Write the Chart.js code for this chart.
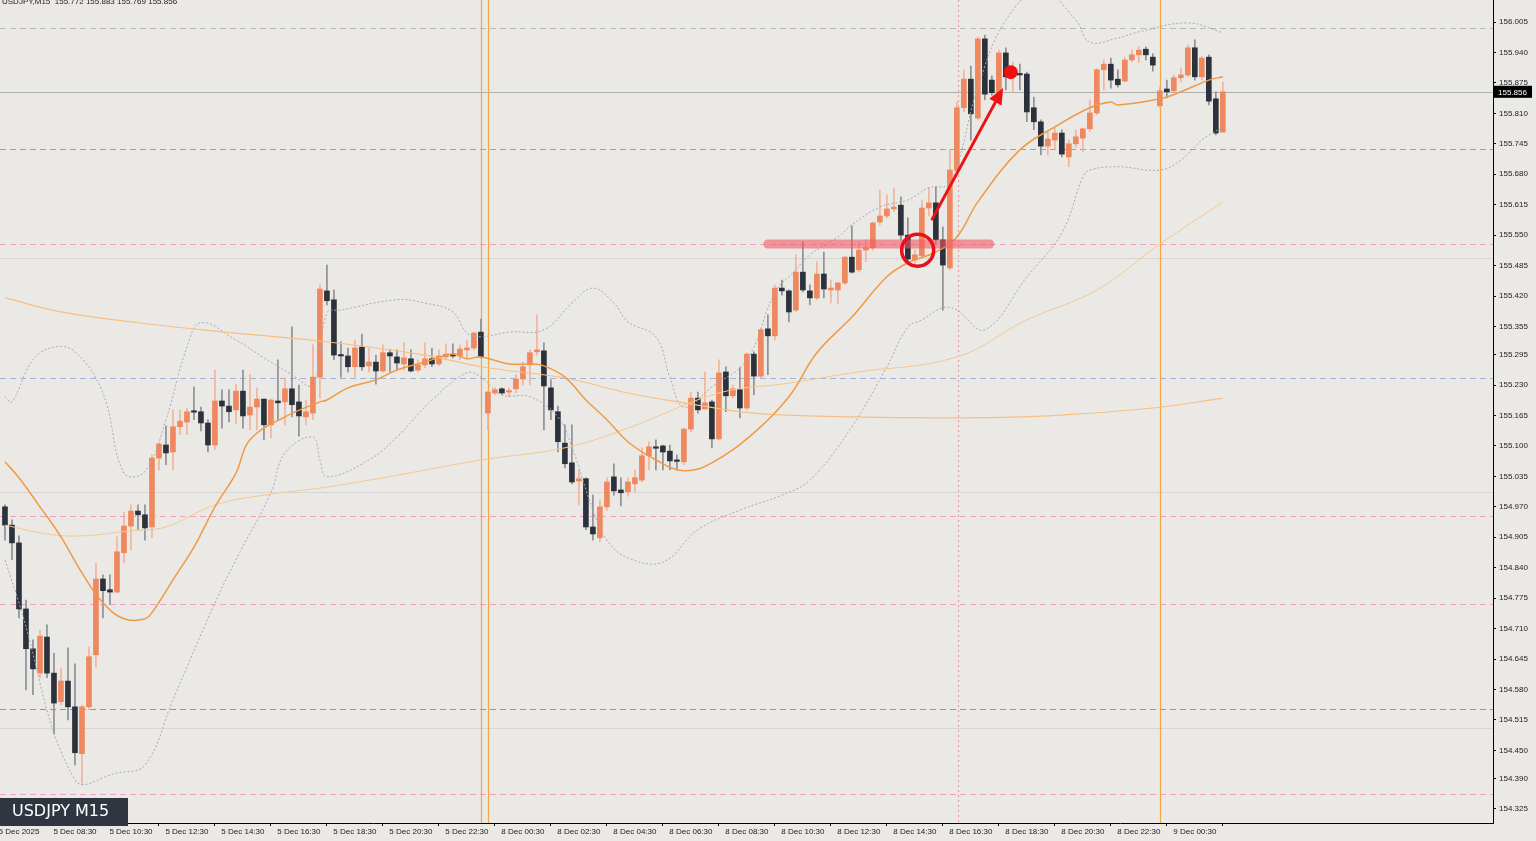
<!DOCTYPE html>
<html><head><meta charset="utf-8">
<script src="https://cdn.jsdelivr.net/npm/chart.js@4.4.1/dist/chart.umd.min.js"></script>
<style>html,body{margin:0;padding:0;background:#ebe9e6;overflow:hidden}#wrap{width:1536px;height:841px}</style>
</head><body><div id="wrap"><canvas id="c" width="1536" height="841"></canvas></div>
<script>
const opens=[154.970,154.931,154.893,154.752,154.667,154.615,154.692,154.615,154.554,154.598,154.543,154.443,154.543,154.654,154.816,154.793,154.788,154.872,154.929,154.961,154.953,154.927,155.074,155.102,155.087,155.141,155.151,155.173,155.173,155.149,155.102,155.196,155.185,155.177,155.217,155.166,155.183,155.200,155.145,155.196,155.194,155.222,155.194,155.162,155.170,155.247,155.431,155.412,155.294,155.292,155.269,155.311,155.271,155.279,155.260,155.299,155.290,155.275,155.286,155.262,155.273,155.286,155.275,155.290,155.296,155.292,155.305,155.309,155.343,155.170,155.213,155.222,155.215,155.222,155.243,155.273,155.301,155.303,155.224,155.173,155.106,155.064,155.025,155.030,154.927,154.904,154.970,155.034,155.006,155.002,155.019,155.027,155.079,155.096,155.100,155.089,155.068,155.066,155.136,155.202,155.179,155.194,155.115,155.258,155.207,155.220,155.181,155.296,155.249,155.350,155.335,155.437,155.431,155.390,155.471,155.431,155.416,155.467,155.433,155.433,155.448,155.503,155.476,155.518,155.523,155.578,155.591,155.606,155.614,155.550,155.497,155.506,155.608,155.619,155.540,155.480,155.689,155.822,155.883,155.800,155.969,155.881,155.854,155.939,155.892,155.894,155.894,155.822,155.792,155.740,155.753,155.768,155.717,155.745,155.757,155.777,155.811,155.903,155.915,155.883,155.879,155.924,155.935,155.947,155.930,155.826,155.862,155.858,155.886,155.892,155.950,155.888,155.930,155.841,155.770];
const highs=[154.974,154.942,154.908,154.771,154.686,154.707,154.718,154.658,154.626,154.669,154.635,154.547,154.671,154.850,154.825,154.825,154.906,154.959,154.974,154.974,154.974,155.081,155.106,155.143,155.177,155.177,155.181,155.226,155.183,155.156,155.262,155.220,155.220,155.232,155.262,155.252,155.224,155.200,155.200,155.284,155.245,155.354,155.230,155.198,155.316,155.444,155.486,155.433,155.322,155.309,155.326,155.339,155.309,155.294,155.316,155.305,155.305,155.320,155.305,155.284,155.320,155.309,155.305,155.318,155.318,155.316,155.326,155.343,155.371,155.217,155.224,155.224,155.224,155.252,155.279,155.305,155.380,155.320,155.241,155.185,155.145,155.145,155.049,155.032,154.995,154.985,155.032,155.062,155.032,155.032,155.049,155.096,155.109,155.113,155.102,155.102,155.081,155.138,155.215,155.215,155.258,155.198,155.284,155.269,155.230,155.267,155.299,155.301,155.350,155.380,155.444,155.454,155.433,155.508,155.536,155.444,155.493,155.514,155.454,155.450,155.505,155.570,155.536,155.540,155.578,155.646,155.636,155.651,155.632,155.587,155.518,155.625,155.651,155.653,155.568,155.732,155.834,155.903,155.911,155.973,155.977,155.890,155.945,155.950,155.920,155.915,155.898,155.845,155.796,155.770,155.779,155.775,155.753,155.775,155.779,155.839,155.905,155.924,155.928,155.903,155.930,155.945,155.952,155.952,155.937,155.866,155.881,155.892,155.907,155.956,155.967,155.932,155.935,155.856,155.877];
const lows=[154.899,154.857,154.733,154.579,154.569,154.605,154.605,154.485,154.547,154.515,154.419,154.376,154.537,154.628,154.733,154.761,154.786,154.850,154.878,154.921,154.899,154.904,155.049,155.060,155.049,155.124,155.124,155.156,155.132,155.087,155.092,155.138,155.151,155.147,155.138,155.134,155.134,155.113,155.117,155.156,155.145,155.162,155.121,155.145,155.156,155.202,155.401,155.284,155.247,155.258,155.247,155.262,155.258,155.232,155.258,155.258,155.262,155.262,155.258,155.258,155.267,155.269,155.271,155.284,155.288,155.284,155.288,155.305,155.288,155.134,155.209,155.209,155.205,155.213,155.230,155.230,155.294,155.134,155.156,155.087,155.053,155.019,154.974,154.921,154.899,154.895,154.963,154.995,154.972,154.993,155.002,155.023,155.049,155.049,155.049,155.049,155.049,155.060,155.130,155.170,155.179,155.096,155.113,155.173,155.202,155.160,155.177,155.209,155.245,155.252,155.326,155.422,155.365,155.386,155.429,155.401,155.412,155.416,155.405,155.403,155.444,155.469,155.471,155.493,155.518,155.572,155.587,155.600,155.540,155.493,155.486,155.501,155.591,155.529,155.390,155.476,155.685,155.813,155.753,155.796,155.839,155.849,155.826,155.860,155.856,155.860,155.792,155.775,155.721,155.721,155.732,155.717,155.696,155.738,155.728,155.772,155.807,155.860,155.864,155.866,155.877,155.920,155.918,155.924,155.900,155.822,155.843,155.856,155.877,155.888,155.881,155.881,155.828,155.764,155.770];
const closes=[154.931,154.893,154.752,154.667,154.624,154.694,154.615,154.551,154.598,154.543,154.445,154.543,154.650,154.816,154.791,154.788,154.874,154.929,154.961,154.953,154.925,155.074,155.104,155.085,155.141,155.153,155.173,155.172,155.149,155.102,155.196,155.185,155.173,155.217,155.164,155.183,155.200,155.145,155.198,155.192,155.222,155.188,155.164,155.173,155.247,155.435,155.410,155.294,155.292,155.269,155.309,155.269,155.279,155.260,155.299,155.292,155.277,155.288,155.260,155.273,155.286,155.275,155.292,155.296,155.292,155.307,155.309,155.341,155.290,155.215,155.220,155.213,155.217,155.243,155.269,155.299,155.305,155.228,155.177,155.109,155.062,155.023,155.030,154.927,154.912,154.970,155.023,155.004,155.000,155.023,155.032,155.079,155.098,155.095,155.087,155.068,155.067,155.136,155.202,155.177,155.192,155.115,155.256,155.207,155.222,155.181,155.296,155.249,155.348,155.335,155.437,155.431,155.386,155.471,155.433,155.416,155.467,155.435,155.437,155.448,155.503,155.471,155.518,155.523,155.576,155.591,155.606,155.610,155.550,155.499,155.508,155.608,155.619,155.540,155.486,155.689,155.822,155.883,155.809,155.969,155.851,155.854,155.939,155.888,155.896,155.892,155.813,155.792,155.740,155.755,155.768,155.723,155.745,155.760,155.777,155.811,155.903,155.915,155.881,155.871,155.924,155.935,155.945,155.935,155.913,155.858,155.856,155.886,155.892,155.950,155.888,155.928,155.836,155.768,155.856];

const ma20Idx=[0,2,5,8,11,14,17,20,21,24,27,30,33,35,40,45,46,49,53,56,60,64,66,68,72,75,77,80,83,86,89,93,97,101,107,112,116,121,126,129,133,136,139,145,150,155,158,159,165,168,172,174];
const ma20Val=[155.066,155.032,154.970,154.906,154.829,154.765,154.731,154.731,154.744,154.814,154.884,154.970,155.042,155.113,155.162,155.194,155.198,155.224,155.241,155.262,155.279,155.296,155.286,155.290,155.275,155.275,155.271,155.247,155.198,155.156,155.109,155.070,155.047,155.064,155.128,155.205,155.299,155.375,155.461,155.491,155.514,155.546,155.621,155.732,155.781,155.822,155.834,155.828,155.841,155.856,155.881,155.888];
const maMidIdx=[0,8,19,30,45,60,68,80,89,97,107,121,136,149,164,174];
const maMidVal=[155.416,155.386,155.363,155.345,155.324,155.294,155.269,155.245,155.213,155.192,155.170,155.162,155.160,155.164,155.181,155.202];
const maSlowIdx=[0,6,11,18,23,30,37,45,54,68,80,89,102,112,121,136,146,156,165,174];
const maSlowVal=[154.931,154.912,154.908,154.919,154.927,154.974,154.995,155.010,155.032,155.070,155.096,155.138,155.213,155.234,155.256,155.290,155.369,155.433,155.531,155.621];
const bbUpIdx=[0,1,4,7,10,14,17,20,23,26,28,33,37,41,44,46,48,56,60,64,66,68,72,77,81,84,87,89,93,95,97,101,106,110,113,115,119,121,125,129,132,135,139,143,148,153,155,159,162,169,174];
const bbUpVal=[155.205,155.194,155.284,155.311,155.301,155.213,155.042,155.045,155.156,155.311,155.363,155.326,155.288,155.252,155.230,155.384,155.390,155.412,155.405,155.386,155.341,155.333,155.343,155.348,155.405,155.437,155.405,155.365,155.333,155.247,155.183,155.226,155.284,155.427,155.476,155.508,155.546,155.572,155.610,155.625,155.651,155.661,155.866,156.009,156.073,156.009,155.962,155.971,155.984,156.003,155.982];
const bbLoIdx=[0,2,10,16,20,24,30,33,38,40,44,45,46,52,56,61,66,68,71,75,79,81,84,86,89,94,99,105,111,115,121,126,129,131,134,136,140,146,151,154,155,159,165,168,171,174];
const bbLoVal=[154.857,154.765,154.387,154.402,154.419,154.558,154.765,154.857,155.000,155.085,155.119,155.070,155.034,155.070,155.119,155.198,155.256,155.247,155.209,155.205,155.162,155.098,154.963,154.899,154.861,154.852,154.921,154.963,154.995,155.027,155.141,155.269,155.354,155.369,155.395,155.390,155.348,155.461,155.555,155.674,155.689,155.696,155.689,155.710,155.753,155.781];

const yTicks=[156.005,155.940,155.875,155.810,155.745,155.680,155.615,155.550,155.485,155.420,155.355,155.295,155.230,155.165,155.100,155.035,154.970,154.905,154.840,154.775,154.710,154.645,154.580,154.515,154.450,154.390,154.325];
const xTickIdx=[2,10,18,26,34,42,50,58,66,74,82,90,98,106,114,122,130,138,146,154,162,170];
const xTickLabels=["5 Dec 2025","5 Dec 08:30","5 Dec 10:30","5 Dec 12:30","5 Dec 14:30","5 Dec 16:30","5 Dec 18:30","5 Dec 20:30","5 Dec 22:30","8 Dec 00:30","8 Dec 02:30","8 Dec 04:30","8 Dec 06:30","8 Dec 08:30","8 Dec 10:30","8 Dec 12:30","8 Dec 14:30","8 Dec 16:30","8 Dec 18:30","8 Dec 20:30","8 Dec 22:30","9 Dec 00:30"];
const hLevels=[155.992,155.734,155.531,155.245,154.951,154.763,154.539,154.357];
const hLevelColors=["#b9b9b9","#a0a0a0","#f0a0c0","#9fb4d8","#f0a0c0","#f0a0c0","#8a9f8a","#f0a0c0"];
const hSolid=[155.501,155.002,154.498];
const currentPrice=155.856;
const vLinesOrange=[68,69,165];
const vLinePink=[136.1];
const zoneLine={from:109,to:140.7,price:155.531};
const circleMark={i:130.4,price:155.518};
const arrowMark={i0:132.4,p0:155.582,i1:142.6,p1:155.864};
const dotMark={i:143.7,price:155.898};
const title="USDJPY,M15  155.772 155.883 155.769 155.856";

const idx=opens.map((_,i)=>i);
const up=idx.map(i=>closes[i]>=opens[i]);
const ORANGE='#ef885e', DARK='#2c323b';
const pts=(a,b)=>a.map((x,k)=>({x:x,y:b[k]}));

const bg={id:'bg',beforeDraw(c){const x=c.ctx;x.save();x.fillStyle='#ebe9e6';x.fillRect(0,0,c.width,c.height);x.restore();
 const {chartArea:a,scales:{x:sx,y:sy}}=c;x.save();
 hSolid.forEach(p=>{const y=Math.round(sy.getPixelForValue(p))+.5;x.strokeStyle='#d8d6d3';x.lineWidth=1;x.beginPath();x.moveTo(a.left,y);x.lineTo(a.right,y);x.stroke();});
 hLevels.forEach((p,k)=>{const y=Math.round(sy.getPixelForValue(p))+.5;x.strokeStyle=hLevelColors[k];x.setLineDash([6,4]);x.lineWidth=1;x.beginPath();x.moveTo(a.left,y);x.lineTo(a.right,y);x.stroke();});
 x.setLineDash([]);
 {const y=Math.round(sy.getPixelForValue(currentPrice))+.5;x.strokeStyle='#b0b0b0';x.beginPath();x.moveTo(a.left,y);x.lineTo(a.right,y);x.stroke();}
 vLinesOrange.forEach(i=>{const px=Math.round(sx.getPixelForValue(i))+.5;x.strokeStyle='#f3a640';x.lineWidth=1.2;x.beginPath();x.moveTo(px,a.top);x.lineTo(px,a.bottom);x.stroke();});
 vLinePink.forEach(i=>{const px=Math.round(sx.getPixelForValue(i))+.5;x.strokeStyle='#e6a0a0';x.setLineDash([2,3]);x.beginPath();x.moveTo(px,a.top);x.lineTo(px,a.bottom);x.stroke();x.setLineDash([]);});
 x.restore();}};
const over={id:'over',afterDatasetsDraw(c){const x=c.ctx,{chartArea:a,scales:{x:sx,y:sy}}=c;x.save();
 x.beginPath();x.rect(a.left,a.top,a.right-a.left,a.bottom-a.top);x.clip();
 const zy=sy.getPixelForValue(zoneLine.price);x.strokeStyle='rgba(240,90,100,0.6)';x.lineWidth=9;x.lineCap='round';x.beginPath();x.moveTo(sx.getPixelForValue(zoneLine.from),zy);x.lineTo(sx.getPixelForValue(zoneLine.to),zy);x.stroke();
 x.lineCap='butt';x.strokeStyle='#e8101a';x.lineWidth=3.5;x.beginPath();x.arc(sx.getPixelForValue(circleMark.i),sy.getPixelForValue(circleMark.price),16,0,Math.PI*2);x.stroke();
 const ax0=sx.getPixelForValue(arrowMark.i0),ay0=sy.getPixelForValue(arrowMark.p0),ax1=sx.getPixelForValue(arrowMark.i1),ay1=sy.getPixelForValue(arrowMark.p1);
 const ang=Math.atan2(ay1-ay0,ax1-ax0);x.strokeStyle='#ee1111';x.fillStyle='#ee1111';x.lineWidth=3;x.beginPath();x.moveTo(ax0,ay0);x.lineTo(ax1-10*Math.cos(ang),ay1-10*Math.sin(ang));x.stroke();
 x.beginPath();x.moveTo(ax1,ay1);x.lineTo(ax1-16*Math.cos(ang)+7*Math.sin(ang),ay1-16*Math.sin(ang)-7*Math.cos(ang));x.lineTo(ax1-16*Math.cos(ang)-7*Math.sin(ang),ay1-16*Math.sin(ang)+7*Math.cos(ang));x.closePath();x.fill();
 x.beginPath();x.arc(sx.getPixelForValue(dotMark.i),sy.getPixelForValue(dotMark.price),7,0,Math.PI*2);x.fill();
 x.restore();
 x.save();const cy=sy.getPixelForValue(currentPrice);x.fillStyle='#000';x.fillRect(a.right+1,cy-6,38,12);x.fillStyle='#fff';x.font='8px "Liberation Sans"';x.textBaseline='middle';x.fillText(currentPrice.toFixed(3),a.right+5,cy+.5);
 x.fillStyle='#222';x.font='8px "Liberation Sans"';x.textBaseline='top';x.fillText(title,2,-2);
 x.fillStyle='#2f3640';x.fillRect(0,798,128,28);x.fillStyle='#fff';x.font='16px "DejaVu Sans"';x.textBaseline='middle';x.fillText('USDJPY M15',12,812);
 x.restore();}};

new Chart(document.getElementById('c'),{type:'bar',
 data:{datasets:[
  {type:'line',data:pts(ma20Idx,ma20Val),borderColor:'#f09a45',borderWidth:1.5,pointRadius:0,tension:0.4,order:1},
  {type:'line',data:pts(maMidIdx,maMidVal),borderColor:'#f5c080',borderWidth:1.2,pointRadius:0,tension:0.4,order:1},
  {type:'line',data:pts(maSlowIdx,maSlowVal),borderColor:'#f6c890',borderWidth:1,pointRadius:0,tension:0.4,order:1},
  {type:'line',data:pts(bbUpIdx,bbUpVal),borderColor:'#a8a8b8',borderWidth:1,borderDash:[2,2],pointRadius:0,tension:0.4,order:1},
  {type:'line',data:pts(bbLoIdx,bbLoVal),borderColor:'#a8a8b8',borderWidth:1,borderDash:[2,2],pointRadius:0,tension:0.4,order:1},
  {data:idx.map(i=>({x:i,y:[lows[i],highs[i]]})),backgroundColor:idx.map(i=>up[i]?'#f2b49a':'#8d8f94'),barThickness:1,grouped:false,order:3},
  {data:idx.map(i=>({x:i,y:[opens[i],closes[i]]})),backgroundColor:idx.map(i=>up[i]?ORANGE:DARK),barThickness:5,minBarLength:1.5,grouped:false,order:2}
 ]},
 options:{responsive:false,animation:false,events:[],layout:{padding:{top:0,left:0,right:0,bottom:0}},
  plugins:{legend:{display:false},tooltip:{enabled:false}},
  scales:{
   x:{type:'linear',min:-0.71,max:212.6,offset:false,
      afterFit(s){s.height=18;s.paddingLeft=0;s.paddingRight=0;},
      afterBuildTicks(s){s.ticks=xTickIdx.map(v=>({value:v}));},
      ticks:{callback:(v)=>{const k=xTickIdx.indexOf(v);return k>=0?xTickLabels[k]:'';},font:{size:8,family:'Liberation Sans'},color:'#222',maxRotation:0,autoSkip:false,padding:1},
      grid:{drawOnChartArea:false,color:'#000',tickLength:3},border:{color:'#000'}},
   y:{position:'right',min:154.295,max:156.052,
      afterFit(s){s.width=43;s.paddingTop=0;s.paddingBottom=0;},
      afterBuildTicks(s){s.ticks=yTicks.map(v=>({value:v}));},
      ticks:{callback:v=>Number(v).toFixed(3),font:{size:8,family:'Liberation Sans'},color:'#222',padding:3},
      grid:{drawOnChartArea:false,color:'#000',tickLength:3},border:{color:'#000'}}
  }},
 plugins:[bg,over]});
</script></body></html>
